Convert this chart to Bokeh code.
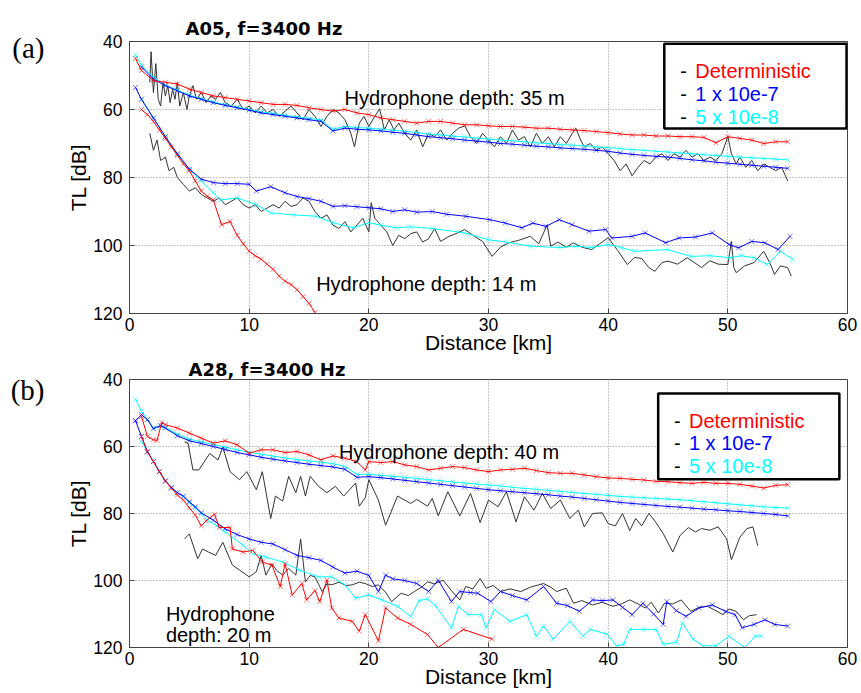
from bokeh.plotting import figure
from bokeh.models import Range1d, FixedTicker, LinearAxis, Label, BoxAnnotation, Title
from bokeh.layouts import column
from bokeh.embed import file_html
from bokeh.resources import INLINE

# ---------------- data (distance km, TL dB) ----------------
x_ticks = [0, 10, 20, 30, 40, 50, 60]
y_ticks = [40, 60, 80, 100, 120]
legend_names = ["Deterministic", "1 x 10e-7", "5 x 10e-8"]
series_colors = ["#ff0000", "#0000ff", "#00ffff"]

# Panel (a) A05, hydrophone depth 35 m
a05_35_det = [(0.5, 45), (1, 48.5), (2, 51.5), (3, 52), (4, 52.5), (5, 54), (6, 55), (7, 56), (8, 56.5), (9, 57),
              (10, 57.5), (11, 58), (12, 58.5), (13, 58.5), (14, 58.8), (15, 59.5), (16, 60), (17, 60.5), (18, 60), (19, 61),
              (20, 61.5), (21, 62.5), (22, 63), (23, 63.5), (24, 64), (25, 63.5), (26, 63.5), (27, 64), (28, 64.5), (29, 64.5),
              (30, 64.8), (31, 65), (32, 65), (33, 65.2), (34, 65.5), (35, 65.5), (36, 65.8), (37, 66), (38, 66.2), (39, 66.5),
              (40, 66.8), (41, 67.2), (42, 67.5), (43, 67.5), (44, 67.8), (45, 67.8), (46, 68), (47, 68), (48, 68.2), (49, 69.8),
              (50, 68), (51, 68.5), (52, 69), (53, 70), (54, 69.5), (55, 69.5)]
a05_35_1e7 = [(1, 47.5), (2, 51), (3, 53), (4, 54.5), (5, 56), (6, 57), (7, 58), (8, 58.8), (9, 59.5),
              (10, 60.2), (11, 61), (12, 61.5), (13, 62), (14, 62.5), (15, 63), (16, 63.5), (17, 66.3), (18, 65.5), (19, 65.8),
              (20, 66), (21, 66.3), (22, 66.7), (23, 67), (24, 67.5), (25, 68), (26, 68.3), (27, 68.6), (28, 69), (29, 69.3),
              (30, 69.6), (31, 70), (32, 70.2), (33, 70.5), (34, 70.8), (35, 71), (36, 71.3), (37, 71.5), (38, 71.7), (39, 72),
              (40, 72.3), (41, 72.8), (42, 73.2), (43, 73.5), (44, 73.8), (45, 74), (46, 74.4), (47, 74.8), (48, 75.1), (49, 75.5),
              (50, 75.8), (51, 76.1), (52, 76.4), (53, 76.7), (54, 77), (55, 77.3)]
a05_35_5e8 = [(0.5, 44), (1, 47), (2, 50.5), (3, 52.8), (4, 54.3), (5, 55.8), (6, 56.8), (7, 57.8), (8, 58.6), (9, 59.3),
              (10, 60), (11, 60.7), (12, 61.2), (13, 61.7), (14, 62.2), (15, 62.6), (16, 63.1), (17, 65.8), (18, 65), (19, 65.3),
              (20, 65.5), (21, 65.8), (22, 66.1), (23, 66.4), (24, 66.8), (25, 67.2), (26, 67.5), (27, 67.8), (28, 68.1), (29, 68.4),
              (30, 68.7), (31, 69), (32, 69.2), (33, 69.5), (34, 69.8), (35, 70), (36, 70.3), (37, 70.5), (38, 70.7), (39, 71),
              (40, 71.2), (41, 71.5), (42, 71.8), (43, 72), (44, 72.3), (45, 72.5), (46, 72.8), (47, 73), (48, 73.3), (49, 73.5),
              (50, 73.8), (51, 74), (52, 74.2), (53, 74.4), (54, 74.6), (55, 74.8)]
a05_35_meas = [(1.7, 52), (1.8, 43), (2.0, 55), (2.2, 46.5), (2.4, 57), (2.6, 59), (2.8, 52), (3.0, 56), (3.2, 53), (3.4, 58),
               (3.6, 54), (3.8, 57), (4.0, 52), (4.2, 59), (4.5, 55), (4.8, 60), (5.0, 56), (5.3, 53), (5.6, 57), (6.0, 55),
               (6.4, 58), (6.8, 56), (7.2, 57), (7.6, 55), (8.0, 58), (8.5, 59), (9.0, 57), (9.5, 60), (10, 59), (10.5, 61),
               (11, 59), (11.5, 61), (12, 60), (12.5, 62), (13, 60.5), (13.5, 59), (14, 61), (14.5, 63), (15, 60), (15.5, 62),
               (16, 65), (16.5, 62), (17, 60), (17.5, 61), (18, 63), (18.5, 67), (18.8, 71), (19.2, 64), (19.6, 62), (20, 65),
               (20.5, 62), (20.9, 59.8), (21.3, 66), (21.7, 63), (22.1, 66), (22.5, 64), (23, 67), (23.5, 69), (24, 66), (24.5, 71),
               (25, 67), (25.5, 68), (26, 66), (26.5, 69), (27, 67), (27.5, 65.5), (28, 64.8), (28.5, 68), (29, 70), (29.5, 67),
               (30, 69), (30.5, 71), (31, 68), (31.5, 70), (32, 66), (32.5, 69), (33, 68), (33.5, 71), (34, 67), (34.5, 70),
               (35, 68), (35.5, 71), (36, 68), (36.5, 70), (37, 67), (37.3, 65.5), (37.7, 69), (38, 71), (38.5, 70), (39, 72),
               (39.5, 71), (40, 73), (40.5, 75), (41, 78), (41.5, 76), (42, 79.5), (42.5, 77), (43, 75), (43.5, 76), (44, 74),
               (44.5, 73), (45, 75), (45.5, 73), (46, 74), (46.5, 72), (47, 74), (47.5, 73), (48, 75), (48.5, 74), (49, 75),
               (49.5, 73), (50, 68), (50.3, 73), (50.7, 76), (51, 74), (51.5, 77), (52, 75), (52.5, 78), (53, 76), (53.5, 77),
               (54, 78), (54.5, 77), (55, 81)]

# Panel (a) A05, hydrophone depth 14 m
a05_14_det = [(1, 60), (1.5, 61.5), (2, 63.5), (2.5, 66), (3, 68.5), (3.5, 71), (4, 73.5), (4.5, 76), (5, 78), (5.5, 81),
              (6, 84), (6.5, 85.5), (7, 86.6), (7.7, 93.9), (8.4, 92.9), (9, 97), (9.5, 99.5), (10, 101.7), (10.5, 103), (11, 104),
              (11.5, 105.5), (12, 107), (12.5, 109), (13, 110.5), (13.5, 111.5), (14, 113), (14.5, 115), (15, 117), (15.5, 119.7)]
a05_14_1e7 = [(0.5, 53.5), (1, 57), (2, 62.5), (3, 68), (4, 73), (5, 77.5), (6, 80.5), (7, 81.5), (8, 81.8), (9, 81.8),
              (10, 82), (10.6, 84), (11.8, 82.7), (13, 84.5), (14, 85.6), (15, 86.2), (16, 87), (17, 88.5), (18, 88.3), (19, 88.6),
              (20, 88.9), (21, 89.2), (22, 90), (23, 89.5), (24, 90.2), (25.3, 90), (26.5, 90.8), (28.1, 91.4), (30.1, 92.4),
              (31.4, 93.4), (32.8, 94.8), (33.7, 93.4), (34.8, 94.4), (35.9, 92.4), (37, 93.9), (38.4, 95.8), (39.8, 95.3),
              (40.3, 97.8), (42, 97.3), (43.1, 96.3), (44.8, 99.2), (45.9, 97.8), (47.3, 97.5), (48.7, 96.3), (50.1, 99.7),
              (50.9, 100.7), (52, 98.8), (53.1, 99.2), (54.2, 101.2), (55.2, 97.3)]
a05_14_5e8 = [(1, 57), (2, 62.5), (3, 68), (4, 73.2), (5, 77.6), (6, 81), (7, 84.5), (7.6, 86.6), (9, 86), (10.6, 88),
              (11.8, 90.4), (13.7, 91), (15.6, 91.4), (17, 93.3), (18.7, 94.8), (20, 93.3), (21, 94), (22.3, 94.8), (23.5, 94.5),
              (25.3, 95), (28, 96.3), (30, 98.3), (31.5, 99), (33.5, 100.2), (36, 100.6), (37.3, 100.2), (38.6, 100.6), (40, 99.7),
              (41.1, 100.6), (42.2, 101.7), (45, 101.2), (46.9, 103.2), (48.5, 103), (50.2, 103.6), (51.1, 103),
              (52.2, 103.6), (53.3, 105.6), (54.4, 101.7), (55.4, 104)]
a05_14_meas = [(1.7, 67), (2.0, 72), (2.3, 69), (2.6, 75), (3.0, 74), (3.3, 78), (3.7, 77), (4.0, 80), (4.5, 82), (5.0, 84),
               (5.5, 83), (6.0, 85), (6.5, 86), (7.0, 87), (7.5, 86), (8.0, 88), (8.5, 87), (9.0, 86), (9.5, 88), (10, 89),
               (10.5, 88), (11, 90), (11.5, 89), (12, 88), (12.5, 89), (13, 87), (13.5, 88.5), (14, 88), (14.5, 86), (15, 87),
               (15.5, 90), (16, 92), (16.5, 91), (17, 94), (17.5, 95), (18, 93), (18.5, 96), (19, 94), (19.5, 92), (20, 96),
               (20.2, 87.4), (20.5, 92), (21, 94), (21.5, 96), (22, 100), (22.5, 97), (23, 98), (23.5, 96.5), (24, 96), (24.5, 99),
               (25, 98), (25.5, 95), (26, 98.8), (26.7, 97.3), (27.3, 96.5), (28, 95.3), (28.7, 97), (29.5, 98.8), (30.3, 103.2),
               (31, 100.5), (31.7, 99.2), (32.5, 98.5), (33.5, 97.3), (34.2, 99.5), (34.9, 93.9), (35.2, 100.2), (35.8, 99),
               (36.5, 100.5), (37.1, 99.2), (37.8, 100.5), (38.6, 101.2), (39.3, 99.5), (40, 97.7), (40.8, 101.5), (41.6, 105.6),
               (42.2, 103.5), (42.8, 103.8), (43.4, 106.5), (43.9, 107.6), (44.5, 105), (45, 104.6), (45.8, 105.5), (46.6, 103.6),
               (47.2, 105), (47.8, 106.5), (48.5, 104.5), (49.2, 105.5), (50, 105.6), (50.3, 98.8), (50.5, 106.5), (50.7, 108),
               (51.4, 106), (52.2, 105), (53, 101.7), (53.5, 105), (53.9, 108.5), (54.4, 106), (55, 106.5), (55.3, 109)]

# Panel (b) A28, hydrophone depth 40 m
a28_40_det = [(1, 51), (1.5, 57), (2, 58), (2.3, 58.2), (2.7, 52.8), (3, 53.5), (4, 54.5), (5, 56), (6, 57.5), (7, 59),
              (8, 58.3), (9, 59.5), (10, 62), (11, 61), (12, 61), (13, 61.8), (14, 61.5), (15, 62.5), (16, 64), (17, 62.8),
              (18, 63.5), (19, 64.5), (19.7, 67), (20, 64.5), (21, 64.8), (22, 64.5), (23, 65.5), (24, 66), (25, 67), (26, 66.5),
              (27, 66), (28, 66.3), (29, 67), (30, 67.5), (31, 67), (32, 66.8), (33, 66.5), (34, 67.2), (35, 67.8), (36, 68),
              (37, 68), (38, 68.5), (39, 69), (40, 69.4), (41, 69.5), (42, 69.8), (43, 70), (44, 70.4), (45, 70.5), (46, 70.8),
              (47, 71), (48, 70.7), (49, 71), (50, 71), (51, 71.3), (52, 71.8), (53, 72.4), (54, 71.6), (55, 71.4)]
a28_40_1e7 = [(0.5, 52.3), (1, 50.5), (1.5, 52), (2, 54.7), (2.6, 53.7), (3, 54.5), (4, 56.8), (5, 58.3), (6, 59.1), (7, 60),
              (8, 60.9), (9, 61.8), (10, 62.5), (11, 63.2), (12, 63.8), (13, 64.3), (14, 64.8), (15, 65.3), (16, 65.7), (17, 66.1),
              (18, 66.8), (19, 69.2), (20, 69), (21, 69.3), (22, 69.7), (23, 70.1), (24, 70.5), (25, 70.9), (26, 71.3), (27, 71.7),
              (28, 72.1), (29, 72.5), (30, 72.9), (31, 73.2), (32, 73.5), (33, 73.8), (34, 74.1), (35, 74.4), (36, 74.8), (37, 75.1),
              (38, 75.5), (39, 75.9), (40, 76.3), (41, 76.7), (42, 77), (43, 77.3), (44, 77.6), (45, 77.9), (46, 78.1), (47, 78.4),
              (48, 78.7), (49, 78.9), (50, 79.2), (51, 79.4), (52, 79.7), (53, 80), (54, 80.3), (55, 80.7)]
a28_40_5e8 = [(0.5, 45.9), (1, 49.5), (1.5, 52), (2, 54.5), (2.6, 54), (3, 54.3), (4, 56.3), (5, 57.8), (6, 58.6), (7, 59.4),
              (8, 60.2), (9, 61), (10, 61.7), (11, 62.3), (12, 62.9), (13, 63.4), (14, 63.9), (15, 64.3), (16, 64.7), (17, 65.1),
              (18, 66), (19, 68.3), (20, 68.3), (21, 68.6), (22, 68.9), (23, 69.2), (24, 69.5), (25, 69.9), (26, 70.2), (27, 70.6),
              (28, 70.9), (29, 71.2), (30, 71.5), (31, 71.8), (32, 72.2), (33, 72.5), (34, 72.8), (35, 73.1), (36, 73.4), (37, 73.7),
              (38, 74), (39, 74.3), (40, 74.6), (41, 74.9), (42, 75.1), (43, 75.3), (44, 75.5), (45, 75.7), (46, 75.9), (47, 76.2),
              (48, 76.5), (49, 76.8), (50, 77.1), (51, 77.4), (52, 77.7), (53, 78), (54, 78.2), (55, 78.4)]
a28_40_meas = [(4.6, 58.6), (4.9, 59.1), (5.3, 67), (5.8, 67), (6.7, 62.1), (7.4, 64), (7.8, 60.1), (8.4, 67.5), (9.2, 69.9),
               (9.8, 67.5), (10.6, 72.9), (11.1, 67.5), (11.8, 81.5), (12.2, 74.8), (12.8, 76.3), (13.3, 68.9), (13.9, 73.8),
               (14.3, 68.9), (14.7, 74.8), (15.1, 68.9), (15.8, 71.9), (16.5, 73.8), (17.2, 71.9), (17.9, 74.8), (18.9, 70.9),
               (19.2, 77.8), (19.7, 75.3), (20, 69.9), (20.8, 76), (21.4, 83.5), (22.4, 74.8), (23.5, 77), (24, 75.8), (24.9, 77.8),
               (25.3, 75.5), (25.8, 80.7), (26.6, 73.5), (27.6, 80.7), (28.5, 74), (29.3, 82.7), (30, 76), (30.8, 78), (31.5, 73.5),
               (32.3, 82.5), (33, 75), (33.8, 79), (34.5, 74), (35.2, 78.5), (36, 76), (36.8, 81.5), (37.5, 79), (38, 84),
               (38.7, 80), (39.5, 79.8), (40, 83), (40.6, 83.7), (41.2, 80), (41.8, 85.1), (42.3, 81.5), (42.8, 83.7), (43.4, 80),
               (43.9, 82.2), (44.6, 86), (45.4, 91.5), (46, 86.6), (46.7, 84.2), (47.3, 85.5), (47.8, 84.5), (48.5, 85),
               (49.2, 84), (49.9, 87.6), (50.3, 93.8), (51, 87.1), (51.6, 84.5), (52.1, 84), (52.5, 89.6)]

# Panel (b) A28, hydrophone depth 20 m
a28_20_det = [(1, 57), (1.5, 61.6), (2, 64.5), (2.5, 67.5), (3, 70.3), (3.5, 72.5), (4, 74.5), (4.5, 76), (5, 78.3), (5.5, 80.5),
              (6, 83.7), (6.4, 82.2), (7.1, 80.2), (7.5, 84.2), (8.4, 84.2), (8.6, 90.6), (9.5, 91.5), (10.3, 91), (11.1, 94.5),
              (11.9, 95.4), (12.6, 101.8), (13, 95), (13.6, 104.3), (14.4, 100.9), (14.8, 105.8), (15.5, 103), (15.9, 106.3),
              (16.5, 99.9), (16.9, 108.2), (17.5, 111.2), (18.6, 112.2), (19.2, 115.1), (19.7, 110.2), (20.8, 118), (21.4, 108.2),
              (22.4, 111.2), (23.5, 113.1), (24.9, 116.1), (25.8, 120), (27.9, 114.6), (30.3, 117.5)]
a28_20_1e7 = [(0.5, 52.3), (1, 57), (1.5, 61.6), (2, 64.5), (2.5, 67.5), (3, 70.3), (3.5, 72.2), (4, 73.8), (4.5, 74.8), (5, 76.5),
              (5.5, 78), (6, 79.8), (7, 82), (8, 84.6), (9, 86.3), (10, 87.6), (11, 88.6), (12, 89.1), (13, 90.8), (14, 92.5),
              (15, 93.2), (16, 94), (17, 96), (18, 97.8), (19, 97.2), (20, 98.5), (20.8, 103.3), (21.4, 98.4), (22, 99.5), (23, 100),
              (24, 100.9), (25, 103.3), (25.8, 99.9), (26.9, 106.3), (27.6, 103.3), (28.5, 103.6), (29.1, 103.8), (30.2, 106.3),
              (31, 103.3), (32, 104.5), (33.2, 105.8), (34.6, 101.8), (35.7, 106.8), (36.6, 107.5), (37.6, 109.2), (38.7, 105.8),
              (39.5, 106), (40.4, 105.8), (41.2, 108), (42, 110.2), (42.9, 106.8), (43.8, 110), (44.6, 113.1), (44.9, 106.3),
              (45.7, 109), (46.5, 110.7), (47.6, 108.2), (48.7, 107.3), (49.8, 109.2), (50.6, 110.2), (51.2, 114.1), (52.2, 113.1),
              (53.1, 111.7), (53.9, 113.1), (55, 113.6)]
a28_20_5e8 = [(1, 58.5), (1.5, 61.6), (2, 64.5), (2.5, 67.5), (3, 70.3), (3.5, 72.2), (4, 73.8), (4.5, 75), (5, 76.8), (5.5, 78.3),
              (6, 80), (6.5, 82), (7.3, 83.7), (8, 85.5), (8.6, 87.1), (9.5, 89.5), (10.3, 92), (11.4, 93), (12.8, 94.5),
              (14.2, 96.9), (15.8, 98.9), (16.9, 98.9), (18, 101.3), (18.9, 105.3), (20, 104.3), (21.1, 105.8), (22.4, 107.7),
              (23.5, 110.7), (24.2, 106), (24.9, 105.5), (25.5, 107.3), (26.9, 114.1), (27.5, 107.7), (28.3, 110.2), (29.4, 110.2),
              (29.8, 114.1), (30.5, 108.7), (31.8, 112.2), (33.2, 110.2), (34, 116.6), (34.6, 113.6), (35.4, 117.5), (36.8, 112.2),
              (37.9, 116.6), (38.5, 114.6), (39.9, 116), (40.7, 119.5), (41.3, 119), (41.8, 114.6), (43, 114.6), (44, 114.6),
              (44.6, 119), (45.7, 118.5), (46.2, 112.7), (47.1, 117.5), (47.9, 119.5), (49, 119.5), (50.1, 116.6), (51.4, 120),
              (52.3, 116.6), (52.8, 116.6)]
a28_20_meas = [(4.6, 87.6), (5, 86.1), (5.7, 93.5), (6.1, 90.6), (6.6, 91.5), (7.2, 92.5), (7.8, 88.6), (8.6, 95.4), (9.2, 96.9),
               (10, 98.9), (10.6, 97.4), (11, 92.5), (11.4, 98.4), (11.9, 95), (12.3, 97), (12.8, 98.4), (13.3, 96.4), (13.9, 98.4),
               (14.3, 87.6), (14.7, 100.4), (15.1, 98.5), (15.5, 98.9), (16.1, 103.3), (16.5, 101), (16.9, 101.3), (17.5, 100.5),
               (18.1, 101.5), (18.6, 101.3), (19.2, 100.5), (19.7, 100.9), (20.3, 101.8), (20.8, 101.3), (21.4, 103.5),
               (21.9, 106.3), (22.7, 103.8), (23.3, 104.5), (23.8, 103.3), (24.4, 102), (24.9, 100.4), (25.5, 101), (26.2, 99.9),
               (26.9, 103), (27.6, 105.8), (28.1, 101.8), (28.7, 102.5), (29.3, 99.4), (29.8, 102.3), (30.4, 101.5), (31, 103.3),
               (31.8, 102.5), (32.7, 103.3), (33.5, 102), (34.6, 100.9), (35.2, 102), (35.7, 103.3), (36.5, 102.3), (37.1, 106.8),
               (37.8, 106), (38.7, 107.3), (39.5, 106.5), (40.4, 107.7), (41.1, 107), (41.8, 105.8), (42.5, 107), (43.1, 108.2),
               (43.6, 106.5), (44.2, 109.7), (44.7, 106.8), (45.4, 107), (46.1, 105.8), (46.9, 109.2), (47.6, 108), (48.3, 107.7),
               (49, 109), (49.6, 110.2), (50.1, 108.5), (50.7, 109.2), (51.3, 111.7), (51.8, 110.5), (52.4, 110.2)]

SANS = "Liberation Sans"
MEAS_COLOR = "#333333"
AX_COLOR = "#444444"


def make_fig(h, left, right, top, bottom, title_text, title_offset, title_standoff, tag_text, tag_tick):
    p = figure(width=861, height=h, x_range=Range1d(0, 60), y_range=Range1d(120, 40),
               output_backend="svg", toolbar_location=None, title=None,
               min_border_left=left, min_border_right=right,
               min_border_top=top, min_border_bottom=bottom)
    p.add_layout(Title(text=title_text, align="left", offset=title_offset, standoff=title_standoff,
                       text_font="DejaVu Sans", text_font_size="18px", text_font_style="bold",
                       text_color="black"), "above")
    p.xaxis.ticker = FixedTicker(ticks=x_ticks)
    p.yaxis.ticker = FixedTicker(ticks=y_ticks)
    for ax in (p.xaxis[0], p.yaxis[0]):
        ax.major_tick_in = 5
        ax.major_tick_out = 0
        ax.minor_tick_line_color = None
        ax.axis_line_color = AX_COLOR
        ax.major_tick_line_color = AX_COLOR
        ax.major_label_text_font = SANS
        ax.major_label_text_font_size = "17.5px"
        ax.major_label_text_color = "black"
        ax.axis_label_text_font = SANS
        ax.axis_label_text_font_size = "21px"
        ax.axis_label_text_font_style = "normal"
        ax.axis_label_text_color = "black"
    p.xaxis[0].axis_label = "Distance [km]"
    p.yaxis[0].axis_label = "TL [dB]"
    p.xaxis[0].major_label_standoff = 4
    p.xaxis[0].axis_label_standoff = -3
    p.yaxis[0].major_label_standoff = 7
    p.yaxis[0].axis_label_standoff = 0
    # panel tag "(a)" / "(b)" as the single label of an extra left axis
    tag = LinearAxis(ticker=FixedTicker(ticks=[tag_tick]), major_label_overrides={tag_tick: tag_text},
                     major_label_text_font="Liberation Serif", major_label_text_font_size="29px",
                     major_label_text_color="black", major_label_standoff=14,
                     major_tick_line_color=None, minor_tick_line_color=None, axis_line_color=None)
    p.add_layout(tag, "left")
    p.grid.grid_line_color = "#8a8a8a"
    p.grid.grid_line_dash = "1 2"
    p.grid.grid_line_width = 1
    p.outline_line_color = AX_COLOR
    p.outline_line_width = 1
    p.background_fill_color = "white"
    p.border_fill_color = "white"
    return p


def draw(p, pts, color, marker=True):
    xs = [a for a, b in pts]
    ys = [b for a, b in pts]
    p.line(xs, ys, line_color=color, line_width=1)
    if marker:
        p.scatter(xs, ys, marker="x", size=7, line_color=color, line_alpha=0.55, line_width=1)


def label(p, x, y, text, size, color="black"):
    p.add_layout(Label(x=x, y=y, text=text, text_font=SANS, text_font_size=size,
                       text_color=color, text_align="left", text_baseline="alphabetic"))


def legend(p, box, dash_x, name_x, ys):
    left, right, top, bottom = box
    p.add_layout(BoxAnnotation(left=left, right=right, top=top, bottom=bottom,
                               fill_color="white", fill_alpha=1.0,
                               line_color="black", line_alpha=1.0, line_width=2.5))
    for name, col, yy in zip(legend_names, series_colors, ys):
        label(p, dash_x, yy, "-", "20px")
        label(p, name_x, yy, name, "20px", color=col)


# ---------------- panel (a) ----------------
pa = make_fig(356, 126, 14, 41, 42, "A05, f=3400 Hz", 56, 6, "(a)", 42)
for grp in ((a05_35_meas, a05_35_5e8, a05_35_1e7, a05_35_det),
            (a05_14_meas, a05_14_5e8, a05_14_1e7, a05_14_det)):
    draw(pa, grp[0], MEAS_COLOR, marker=False)
    draw(pa, grp[1], series_colors[2])
    draw(pa, grp[2], series_colors[1])
    draw(pa, grp[3], series_colors[0])

label(pa, 17.97, 56.5, "Hydrophone depth: 35 m", "20px")
label(pa, 15.6, 111.45, "Hydrophone depth: 14 m", "20px")
legend(pa, (44.69, 59.92, 40.67, 65.56), 46.03, 47.28, [48.7, 55.3, 62.2])

# ---------------- panel (b) ----------------
pb = make_fig(337, 129, 8, 15, 46, "A28, f=3400 Hz", 59, 0, "(b)", 43)
for grp in ((a28_40_meas, a28_40_5e8, a28_40_1e7, a28_40_det),
            (a28_20_meas, a28_20_5e8, a28_20_1e7, a28_20_det)):
    draw(pb, grp[0], MEAS_COLOR, marker=False)
    draw(pb, grp[1], series_colors[2])
    draw(pb, grp[2], series_colors[1])
    draw(pb, grp[3], series_colors[0])

label(pb, 17.5, 61.6, "Hydrophone depth: 40 m", "20px")
label(pb, 3.04, 109.9, "Hydrophone", "20px")
label(pb, 3.04, 116.3, "depth: 20 m", "20px")
legend(pb, (44.18, 59.32, 44.2, 69.74), 45.5, 46.75, [52.3, 59.1, 65.8])

layout = column(pa, pb, spacing=0)
open("out.html", "w").write(file_html(layout, INLINE))
